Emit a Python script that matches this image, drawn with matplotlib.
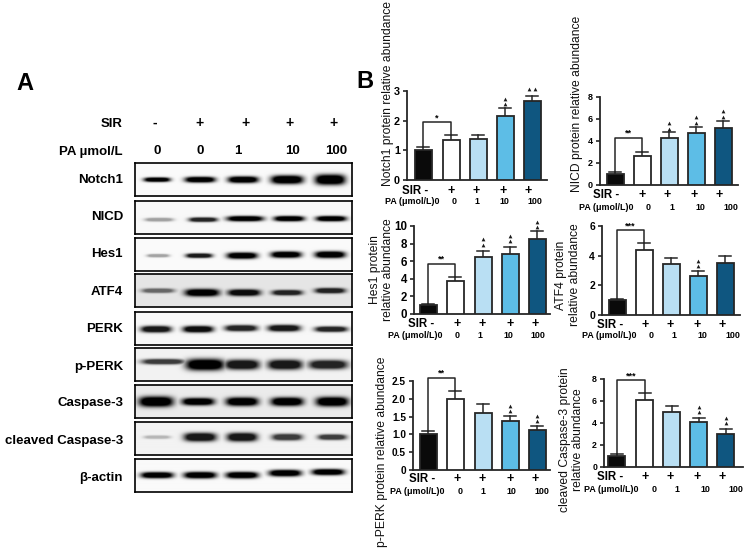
import numpy as np
import matplotlib
matplotlib.use("Agg")
import matplotlib.pyplot as plt

plt.rcParams['font.family'] = ['Liberation Sans', 'DejaVu Sans']
W, H = 745, 549

# ---------- bar chart data ----------
bar_colors = ['#0a0a0a', '#ffffff', '#b9dff3', '#5dbde6', '#0f5680']
notch1_vals = [1.0, 1.35, 1.37, 2.17, 2.65]
notch1_tops = [1.12, 1.51, 1.53, 2.43, 2.84]
nicd_vals = [1.0, 2.66, 4.26, 4.77, 5.22]
nicd_tops = [1.15, 2.96, 4.8, 5.29, 5.83]
hes1_vals = [1.0, 3.75, 6.43, 6.8, 8.48]
hes1_tops = [1.19, 4.24, 7.17, 7.66, 9.4]
atf4_vals = [1.0, 4.36, 3.46, 2.65, 3.53]
atf4_tops = [1.08, 4.85, 3.87, 2.97, 3.96]
pperk_vals = [1.0, 2.0, 1.6, 1.37, 1.13]
pperk_tops = [1.1, 2.23, 1.84, 1.52, 1.25]
cc3_vals = [1.0, 6.06, 5.0, 4.06, 3.03]
cc3_tops = [1.15, 6.73, 5.55, 4.45, 3.45]

# ---------- western-blot band data (one value per lane) ----------
blot_names = ['Notch1', 'NICD', 'Hes1', 'ATF4', 'PERK', 'p-PERK', 'Caspase-3',
              'cleaved Caspase-3', 'β-actin']
band_dark = [[1, 1, 1, 1, 1], [.35, .85, 1, 1, 1], [.35, .9, 1, 1, 1],
             [.55, 1, .95, .85, .85], [.9, .95, .85, .9, .85], [.75, 1, .9, .9, .85],
             [1, 1, 1, 1, 1], [.25, .9, .9, .75, .75], [1, 1, 1, 1, 1]]
band_thick = [[1.6, 2.2, 2.6, 3.6, 4.5], [1.2, 1.6, 2, 2, 2], [1, 1.6, 2.5, 2.5, 2.7],
              [1.6, 3, 2.6, 2, 2], [2.5, 2.5, 2.3, 2.5, 2], [2, 5, 4.2, 4.2, 3.8],
              [4.5, 3, 3.6, 3.6, 4], [1, 3.5, 3.5, 2.5, 2], [2.3, 2.5, 2.5, 2.5, 2.3]]
band_len = [[13, 15, 15, 16, 15], [14, 14, 18, 15, 15], [11, 13, 15, 15, 15],
            [16, 17, 16, 15, 15], [15, 15, 16, 16, 16], [21, 19, 17, 17, 19],
            [17, 16, 16, 16, 16], [13, 16, 15, 15, 14], [16, 16, 16, 16, 16]]
band_x = [[157, 200, 243, 287, 330], [159, 203, 245, 289, 331], [158, 199, 242, 286, 330],
          [158, 202, 244, 287, 330], [156, 198, 241, 284, 331], [163, 205, 242, 285, 328],
          [156, 198, 242, 287, 332], [157, 200, 242, 287, 332], [157, 200, 242, 285, 328]]
band_shift = [[0, 0, 0, 0, 0], [2, 2, 1, 1, 1], [1, 1, 1, 0, 0], [0, 2, 2, 2, 0],
              [1, 1, 0, 0, 1], [-3, 0, 0, 0, 0], [0, 0, 0, 0, 0], [-1, -1, -1, -1, -1],
              [0, 0, 0, -2, -3]]
blot_bg = [.98, .97, .98, .90, .97, .95, .92, .95, .98]
blot_tops = [163, 201, 238, 274, 312, 348, 385, 422, 459]
blot_label_y = [180, 217, 254, 292, 329, 367, 403, 441, 478]

fig = plt.figure(figsize=(W / 100, H / 100), dpi=100, facecolor='white')


def txt(x, y, s, **kw):
    kw.setdefault('ha', 'center')
    kw.setdefault('va', 'center')
    return fig.text(x / W, 1 - y / H, s, **kw)


def pxaxes(x0, y0, x1, y1, **kw):
    return fig.add_axes([x0 / W, 1 - y1 / H, (x1 - x0) / W, (y1 - y0) / H], **kw)


# ---------- panel A ----------
txt(25, 83, 'A', fontsize=17, fontweight='bold')
txt(356, 82, 'B', fontsize=17, fontweight='bold', ha='left')
txt(123, 124, 'SIR', fontsize=9.5, fontweight='bold', ha='right')
txt(123, 152, 'PA µmol/L', fontsize=9.5, fontweight='bold', ha='right')
for x, s in zip([155, 200, 245, 289, 333], ['-', '+', '+', '+', '+']):
    txt(x, 123, s, fontsize=10, fontweight='bold')
for x, s in zip([157, 200, 238, 293, 336], ['0', '0', '1', '10', '100']):
    txt(x, 151, s, fontsize=9.5, fontweight='bold')

bx0, bx1, bh = 135, 352, 33
yy, xx = np.mgrid[0:bh * 3, 0:(bx1 - bx0) * 3]
xx = xx / 3 + bx0
yy = yy / 3 - bh / 2
for i, name in enumerate(blot_names):
    dark = np.zeros_like(xx, dtype=float)
    for cx, hl, t, d, sh in zip(band_x[i], band_len[i], band_thick[i], band_dark[i], band_shift[i]):
        prof = np.exp(-np.abs((xx - cx) / hl) ** 4) * np.exp(-np.abs((yy - sh) / (t + .6)) ** 2.4)
        dark = np.maximum(dark, d * np.clip(prof * 1.5, 0, 1))
    img = blot_bg[i] * (1 - dark)
    ax = pxaxes(bx0, blot_tops[i], bx1, blot_tops[i] + bh)
    ax.imshow(img, cmap='gray', vmin=0, vmax=1, aspect='auto', interpolation='bilinear')
    ax.set_xticks([]); ax.set_yticks([])
    for s in ax.spines.values():
        s.set_linewidth(1.2)
    txt(123, blot_label_y[i], name, fontsize=9.5, fontweight='bold', ha='right')


# ---------- panel B ----------
def panel(rect, ymax, ticks, ticklabels, vals, tops, bracket, bracket_low, stars, tri, centers,
          ylabel, ylab_pos, tick_fs, sir, plus, pa, pa_label):
    x0, ytop, x1, y0 = rect
    ax = pxaxes(x0, ytop, x1, y0)
    ax.set_facecolor('none')
    ax.set_xlim(x0, x1)
    ax.set_ylim(0, ymax)
    ax.bar(centers, vals, width=17, color=bar_colors, edgecolor='#262626', linewidth=1.3, zorder=3)
    for c, v, t in zip(centers, vals, tops):
        ax.plot([c, c], [v, t], color='#262626', lw=1.1, zorder=2, clip_on=False)
        ax.plot([c - 6, c + 6], [t, t], color='#262626', lw=1.1, zorder=2, clip_on=False)
    ax.plot([centers[0], centers[0], centers[1], centers[1]],
            [bracket_low[0], bracket, bracket, bracket_low[1]],
            color='#262626', lw=1.1, clip_on=False, zorder=2)
    ax.text((centers[0] + centers[1]) / 2, bracket + ymax * 0.05, stars, ha='center', va='center',
            fontsize=6.5, fontweight='bold', clip_on=False)
    for idx, offs, yv in tri:
        ax.plot(centers[idx] + offs, yv, marker='^', ms=2.7, mew=0, color='#1a1a1a', ls='none',
                clip_on=False, zorder=4)
    for s in ('top', 'right'):
        ax.spines[s].set_visible(False)
    for s in ('left', 'bottom'):
        ax.spines[s].set_linewidth(1.3)
        ax.spines[s].set_color('#262626')
    ax.set_xticks([])
    ax.set_yticks(ticks)
    ax.set_yticklabels(ticklabels, fontsize=tick_fs, fontweight='bold')
    ax.tick_params(axis='y', length=3, width=1.2, pad=2, color='#262626')
    for (lx, ly), s in zip(ylab_pos, ylabel):
        txt(lx, ly, s, rotation=90, fontsize=8.7, color='#111111')
    txt(sir[0], sir[1], 'SIR -', fontsize=8.3, fontweight='bold', ha='left')
    for px in plus:
        txt(px, sir[1], '+', fontsize=9, fontweight='bold')
    txt(pa_label[0], pa_label[1], 'PA (μmol/L)0', fontsize=6.4, fontweight='bold', ha='left')
    for px, s in zip(pa, ['0', '1', '10', '100']):
        txt(px, pa_label[1], s, fontsize=6.4, fontweight='bold')
    return ax


panel((407, 91, 547, 180), 3, [0, 1, 2, 3], ['0', '1', '2', '3'], notch1_vals, notch1_tops,
      1.94, (1.12, 1.51), '*', [(3, 0, 2.73), (3, 0, 2.55), (4, -2.8, 3.06), (4, 2.8, 3.06)],
      [423, 451, 478, 505, 532], ['Notch1 protein relative abundance'], [(388, 94)], 7.8,
      (402, 191), [451, 476, 503, 528], [454, 477, 504, 535], (385, 202))
panel((600, 97, 738, 185), 8, [0, 2, 4, 6, 8], ['0', '2', '4', '6', '8'], nicd_vals, nicd_tops,
      4.29, (1.15, 2.96), '**', [(2, 0, 5.65), (2, 0, 5.1), (3, 0, 6.16), (3, 0, 5.65), (4, 0, 6.72), (4, 0, 6.2)],
      [615, 642, 669, 696, 723], ['NICD protein relative abundance'], [(577, 104)], 6.5,
      (593, 195), [642, 667, 694, 719], [648, 672, 700, 731], (579, 207))
panel((414, 226, 550, 314), 10, [0, 2, 4, 6, 8, 10], ['0', '2', '4', '6', '8', '10'], hes1_vals, hes1_tops,
      5.72, (1.19, 4.24), '**', [(2, 0, 8.48), (2, 0, 7.88), (3, 0, 8.85), (3, 0, 8.25), (4, 0, 10.5), (4, 0, 9.93)],
      [428, 455, 483, 510, 537], ['Hes1 protein', 'relative abundance'], [(375, 270), (388, 270)], 8.3,
      (408, 324), [457, 482, 510, 535], [457, 480, 508, 538], (388, 335))
panel((602, 226, 740, 315), 6, [0, 2, 4, 6], ['0', '2', '4', '6'], atf4_vals, atf4_tops,
      5.73, (1.08, 4.85), '***', [(3, 0, 3.62), (3, 0, 3.28)],
      [617, 644, 671, 698, 725], ['ATF4 protein', 'relative abundance'], [(561, 275), (575, 275)], 7.5,
      (597, 325), [645, 670, 697, 722], [651, 674, 702, 733], (582, 336))
panel((413, 381, 550, 470), 2.5, [0, .5, 1, 1.5, 2, 2.5], ['0', '0.5', '1.0', '1.5', '2.0', '2.5'], pperk_vals, pperk_tops,
      2.59, (1.1, 2.23), '**', [(3, 0, 1.81), (3, 0, 1.65), (4, 0, 1.52), (4, 0, 1.37)],
      [428, 455, 483, 510, 537], ['p-PERK protein relative abundance'], [(382, 452)], 7.3,
      (409, 479), [457, 482, 510, 535], [460, 483, 511, 542], (390, 491))
panel((604, 379, 743, 467), 8, [0, 2, 4, 6, 8], ['0', '2', '4', '6', '8'], cc3_vals, cc3_tops,
      7.88, (1.15, 6.73), '***', [(3, 0, 5.45), (3, 0, 4.97), (4, 0, 4.45), (4, 0, 3.97)],
      [617, 645, 672, 699, 726], ['cleaved Caspase-3 protein', 'relative abundance'], [(565, 440), (578, 440)], 6.3,
      (597, 477), [645, 670, 697, 722], [654, 677, 705, 736], (584, 489))

fig.savefig('out.png', dpi=100)
